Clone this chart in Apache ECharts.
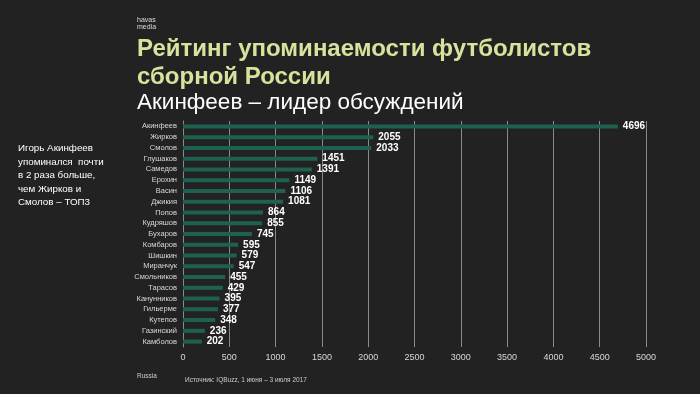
<!DOCTYPE html>
<html><head><meta charset="utf-8">
<script src="https://cdn.jsdelivr.net/npm/echarts@6/dist/echarts.min.js"></script>
<style>html,body{margin:0;padding:0;background:#222222;}#c{width:700px;height:394px;}</style>
</head><body><div id="c"></div>
<script>
var categories = ['Акинфеев','Жирков','Смолов','Глушаков','Самедов','Ерохин','Васин','Джикия','Попов','Кудряшов','Бухаров','Комбаров','Шишкин','Миранчук','Смольников','Тарасов','Канунников','Гильерме','Кутепов','Газинский','Камболов'];
var values = [4696,2055,2033,1451,1391,1149,1106,1081,864,855,745,595,579,547,455,429,395,377,348,236,202];
var tickMin = 0, tickMax = 5000, tickStep = 500;
var F = '"Liberation Sans", Arial, sans-serif';
var chart = echarts.init(document.getElementById('c'));
chart.setOption({
  backgroundColor: '#222222',
  animation: false,
  grid: {left: 183, right: 54, top: 121, bottom: 47},
  xAxis: {type: 'value', min: tickMin, max: tickMax, interval: tickStep,
    axisLine: {show: false}, axisTick: {show: false},
    splitLine: {lineStyle: {color: '#8a8a8a', width: 1}},
    axisLabel: {color: '#d8d8d8', fontFamily: F, fontSize: 9, margin: 6, formatter: function(v){return String(v);}}},
  yAxis: {type: 'category', data: categories, inverse: true,
    axisLine: {lineStyle: {color: '#8a8a8a'}}, axisTick: {show: false},
    axisLabel: {color: '#d8d8d8', fontFamily: F, fontSize: 7.5, margin: 6}},
  series: [{type: 'bar', data: values, barWidth: 4,
    itemStyle: {color: '#1e6152'},
    label: {show: true, position: 'right', distance: 5, color: '#ffffff', fontFamily: F, fontWeight: 'bold', fontSize: 10}}],
  graphic: [
    {type: 'text', left: 137, top: 17, style: {text: 'havas\nmedia', fill: '#dddddd', font: '7px ' + F, lineHeight: 7}},
    {type: 'text', left: 137, top: 35, style: {text: 'Рейтинг упоминаемости футболистов\nсборной России', fill: '#d6e39c', font: 'bold 24px ' + F, lineHeight: 28}},
    {type: 'text', left: 137, top: 91, style: {text: 'Акинфеев – лидер обсуждений', fill: '#ffffff', font: '22.5px ' + F}},
    {type: 'text', left: 18, top: 142, style: {text: 'Игорь Акинфеев\nупоминался  почти\nв 2 раза больше,\nчем Жирков и\nСмолов – ТОП3', fill: '#ffffff', font: '9.8px ' + F, lineHeight: 13.5}},
    {type: 'text', left: 137, top: 373, style: {text: 'Russia', fill: '#cccccc', font: '6.5px ' + F}},
    {type: 'text', left: 185, top: 377, style: {text: 'Источник: IQBuzz, 1 июня – 3 июля 2017', fill: '#cccccc', font: '6.5px ' + F}}
  ]
});
</script></body></html>
